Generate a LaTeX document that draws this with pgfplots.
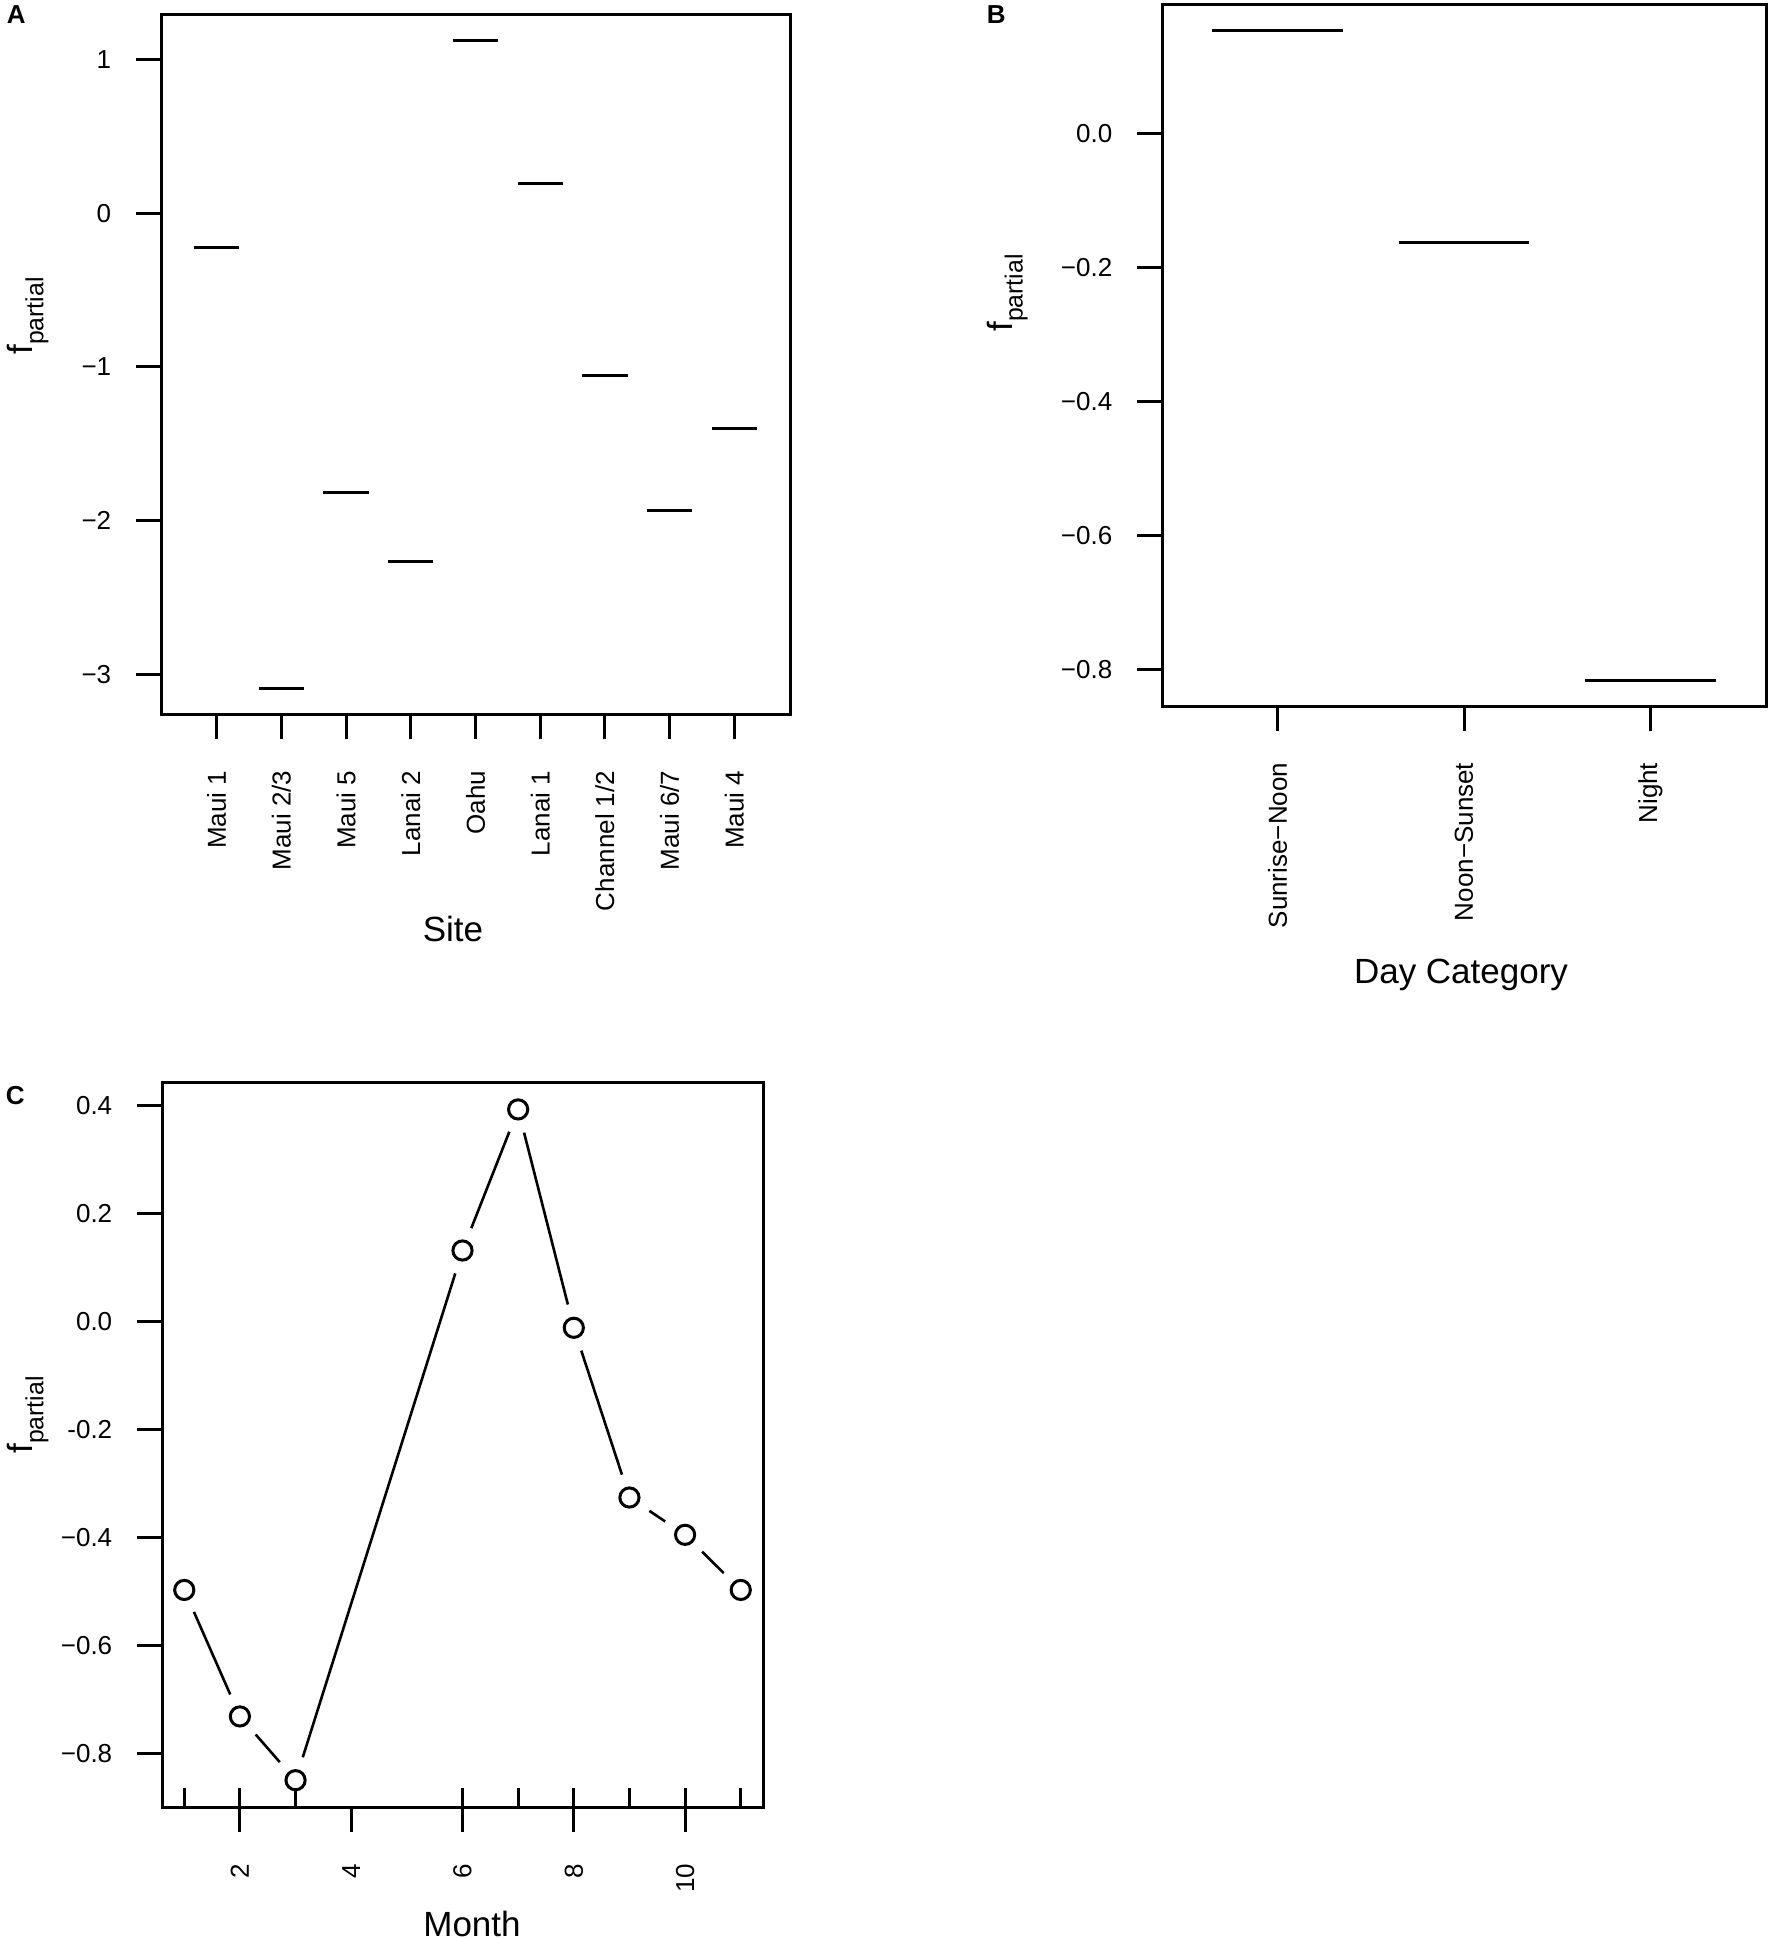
\documentclass[border=0pt]{standalone}
\usepackage{fontspec}
\setmainfont{Liberation Sans}
\usepackage{pgfplots}
\pgfplotsset{compat=1.18}
\pgfplotsset{
  rplot/.style={
    scale only axis,
    axis line style={line width=0.75pt},
    every tick/.style={line width=0.75pt, black},
    tick align=outside,
    major tick length=6.25pt,
    xtick pos=left, ytick pos=left,
    minor tick num=0,
    tick label style={font=\fontsize{6.5}{7.5}\selectfont},
    yticklabel style={anchor=east, inner sep=0pt},
    xticklabel style={rotate=90, anchor=east, inner sep=0pt},
    yticklabel shift=6pt,
    xticklabel shift=7.75pt,
    clip=false,
  },
  seg/.style={black, line width=0.65pt, mark=none, shorten <=6pt, shorten >=6pt},
}
\newcommand{\fpartial}{f\raisebox{-0.3em}{\fontsize{6.2}{7}\selectfont partial}}
\begin{document}
\begin{tikzpicture}[x=1pt,y=1pt]
\useasboundingbox (0,0) rectangle (443,-484.5);

% ---------- Panel A ----------
\begin{axis}[rplot, at={(40.25pt,-178.5pt)}, anchor=south west,
  width=157.25pt, height=174.75pt,
  xmin=0.14, xmax=9.86, ymin=-3.2585, ymax=1.2905,
  xtick={1,2,3,4,5,6,7,8,9},
  xticklabels={Maui 1,Maui 2/3,Maui 5,Lanai 2,Oahu,Lanai 1,Channel 1/2,Maui 6/7,Maui 4},
  ytick={-3,-2,-1,0,1}, yticklabels={−3,−2,−1,0,1}]
\addplot[draw=none, mark=none,
  error bars/.cd, x dir=both, x fixed=0.35, error mark=none,
  error bar style={draw=black, solid, line width=0.75pt}]
  coordinates {(1,-0.223) (2,-3.09) (3,-1.82) (4,-2.263) (5,1.122) (6,0.193) (7,-1.058) (8,-1.932) (9,-1.403)};
\end{axis}

% ---------- Panel B ----------
\begin{axis}[rplot, at={(290.5pt,-176.5pt)}, anchor=south west,
  width=151pt, height=175.25pt,
  xmin=0.38, xmax=3.62, ymin=-0.8548, ymax=0.1918,
  xtick={1,2,3}, xticklabels={Sunrise−Noon,Noon−Sunset,Night},
  ytick={-0.8,-0.6,-0.4,-0.2,0}, yticklabels={−0.8,−0.6,−0.4,−0.2,0.0}]
\addplot[draw=none, mark=none,
  error bars/.cd, x dir=both, x fixed=0.35, error mark=none,
  error bar style={draw=black, solid, line width=0.75pt}]
  coordinates {(1,0.153) (2,-0.163) (3,-0.816)};
\end{axis}

% ---------- Panel C ----------
\begin{axis}[rplot, at={(40.5pt,-451.75pt)}, anchor=south west,
  width=150.25pt, height=181.1pt,
  xmin=0.6, xmax=11.4, ymin=-0.8986, ymax=0.4416,
  xtick={2,4,6,8,10}, xticklabels={2,4,6,8,10},
  ytick={-0.8,-0.6,-0.4,-0.2,0,0.2,0.4},
  yticklabels={−0.8,−0.6,−0.4,-0.2,0.0,0.2,0.4},
  extra x ticks={1,2,3,6,7,8,9,10,11}, extra x tick labels={},
  extra x tick style={tick align=inside, major tick length=4.75pt}]
% connecting segments (type "b": gaps round the points)
\addplot[seg] coordinates {(1,-0.497) (2,-0.731)};
\addplot[seg] coordinates {(2,-0.731) (3,-0.849)};
\addplot[seg] coordinates {(3,-0.849) (6,0.131)};
\addplot[seg] coordinates {(6,0.131) (7,0.392)};
\addplot[seg] coordinates {(7,0.392) (8,-0.012)};
\addplot[seg] coordinates {(8,-0.012) (9,-0.326)};
\addplot[seg] coordinates {(9,-0.326) (10,-0.395)};
\addplot[seg] coordinates {(10,-0.395) (11,-0.497)};
\addplot[only marks, mark=o, mark size=2.4pt, mark options={line width=0.75pt, fill=white, draw=black}] table {
1 -0.497
2 -0.731
3 -0.849
6 0.131
7 0.392
8 -0.012
9 -0.326
10 -0.395
11 -0.497
};
\end{axis}

% ---------- titles and labels ----------
\node[font=\fontsize{8.75}{10}\selectfont, anchor=base] at (113.25,-235.25) {Site};
\node[font=\fontsize{8.75}{10}\selectfont, anchor=base] at (365.25,-245.75) {Day Category};
\node[font=\fontsize{8.75}{10}\selectfont, anchor=base] at (118,-484) {Month};
\node[font=\fontsize{8.75}{10}\selectfont, rotate=90, anchor=base] at (8.25,-79) {\fpartial};
\node[font=\fontsize{8.75}{10}\selectfont, rotate=90, anchor=base] at (253,-73.25) {\fpartial};
\node[font=\fontsize{8.75}{10}\selectfont, rotate=90, anchor=base] at (8.25,-353.75) {\fpartial};
\node[font=\bfseries\fontsize{6.5}{7}\selectfont, anchor=north west, inner sep=0pt] at (1.5,-1.25) {A};
\node[font=\bfseries\fontsize{6.5}{7}\selectfont, anchor=north west, inner sep=0pt] at (246.5,-1.25) {B};
\node[font=\bfseries\fontsize{6.5}{7}\selectfont, anchor=north west, inner sep=0pt] at (1.25,-271.5) {C};
\end{tikzpicture}
\end{document}
